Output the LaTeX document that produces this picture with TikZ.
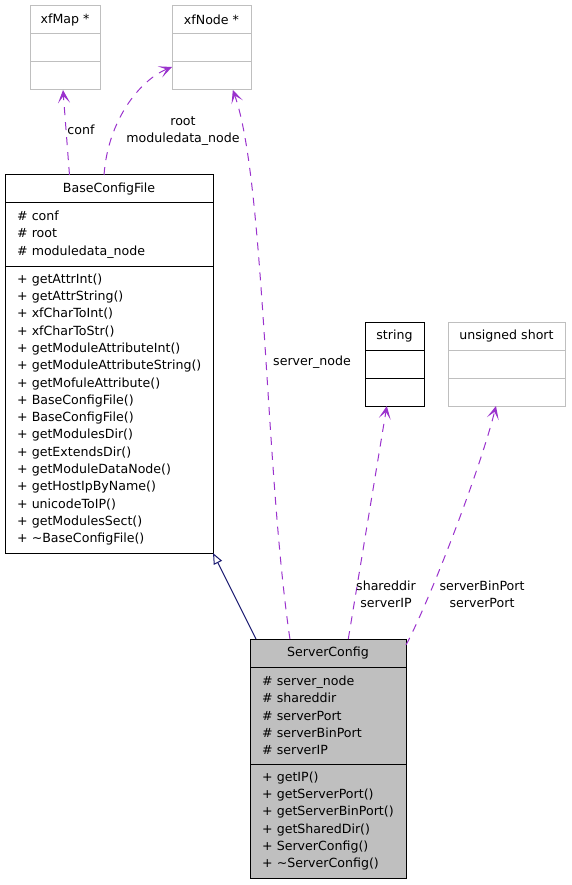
\documentclass[tikz,border=0pt]{standalone}
\usepackage{fontspec}
\setmainfont{DejaVu Sans}
\usetikzlibrary{arrows.meta,positioning,calc}
\definecolor{usecol}{HTML}{9A32CD}
\definecolor{inhcol}{HTML}{191970}
\definecolor{undoc}{HTML}{BFBFBF}
\tikzset{
  every node/.style={font=\fontsize{12.6}{17.3}\selectfont, outer sep=0pt},
  head/.style={draw, line width=1pt, minimum width=#1, minimum height=28pt, inner sep=0pt},
  part/.style={draw, line width=1pt, text width=#1, align=left, inner xsep=12pt, inner ysep=0pt,
    execute at begin node={\hyphenpenalty=10000\hbadness=10000\hfuzz=20pt}},
  uses/.style={usecol, line width=1pt, dash pattern=on 8pt off 7pt, -{Stealth[length=13pt,width=12pt,inset=7pt]}},
  inherits/.style={inhcol, line width=1pt, -{Triangle[open,length=11pt,width=9pt]}},
}

\begin{document}
\begin{tikzpicture}[x=1pt,y=-1pt]
\useasboundingbox (0,0) rectangle (571,885);
% the classes that are only used
\foreach \name/\txt/\x/\y/\w/\col in {map/xfMap */30/6/70/undoc, xnode/xfNode */172/6/79/undoc, str/string/365/322/59/black, ushort/unsigned short/448/322/117/undoc} {
  \node[head=\w, draw=\col, anchor=north west] (\name-a) at (\x,\y) {\txt};
  \node[head=\w, draw=\col, below=0pt of \name-a] (\name-b) {};
  \node[head=\w, draw=\col, below=0pt of \name-b] (\name-c) {};
}
% BaseConfigFile
\node[head=208, anchor=north west] (basehead) at (5,175) {BaseConfigFile};
\node[part=184pt, minimum height=63pt, below=0pt of basehead] (baseattr)
  {\#~conf\\ \#~root\\ \#~moduledata\_node};
\node[part=184pt, minimum height=287pt, below=0pt of baseattr] (baseops)
  {+~getAttrInt()\\ +~getAttrString()\\ +~xfCharToInt()\\ +~xfCharToStr()\\
   +~getModuleAttributeInt()\\ +~getModuleAttributeString()\\ +~getMofuleAttribute()\\
   +~BaseConfigFile()\\ +~BaseConfigFile()\\ +~getModulesDir()\\ +~getExtendsDir()\\
   +~getModuleDataNode()\\ +~getHostIpByName()\\ +~unicodeToIP()\\ +~getModulesSect()\\
   +~\textasciitilde BaseConfigFile()};
% ServerConfig
\node[head=156, fill=undoc, anchor=north west] (srvhead) at (250,639) {ServerConfig};
\node[part=132pt, fill=undoc, minimum height=97pt, below=0pt of srvhead] (srvattr)
  {\#~server\_node\\ \#~shareddir\\ \#~serverPort\\ \#~serverBinPort\\ \#~serverIP};
\node[part=132pt, fill=undoc, minimum height=114pt, below=0pt of srvattr] (srvops)
  {+~getIP()\\ +~getServerPort()\\ +~getServerBinPort()\\ +~getSharedDir()\\
   +~ServerConfig()\\ +~\textasciitilde ServerConfig()};
% the connectors
\draw[inherits] ([xshift=6pt]srvhead.north west) -- (baseops.south east);
\draw[uses] ($(basehead.north west)!0.31!(basehead.north east)$) -- ([xshift=-2pt]map-c.south);
\draw[uses] ($(basehead.north west)!0.476!(basehead.north east)$)
  .. controls (108,120) and (140,80) .. ([yshift=-5pt]xnode-c.north west);
\draw[uses] ($(srvhead.north west)!0.256!(srvhead.north east)$)
  .. controls (265,470) and (265,180) .. ($(xnode-c.south west)!0.77!(xnode-c.south east)$);
\draw[uses] ($(srvhead.north west)!0.63!(srvhead.north east)$) -- ($(str-c.south west)!0.37!(str-c.south east)$);
\draw[uses] ([yshift=-6pt]srvhead.north east)
  .. controls (430,600) and (480,470) .. ($(ushort-c.south west)!0.41!(ushort-c.south east)$);
% the labels
\node (conflbl) at (81,130) {conf};
\node[align=center] (rootlbl) at (183,131) {root\\moduledata\_node};
\node (snodelbl) at (312,362) {server\_node};
\node[align=center] (dirlbl) at (386,594) {shareddir\\serverIP};
\node[align=center] (portlbl) at (482,594) {serverBinPort\\serverPort};
\end{tikzpicture}
\end{document}
